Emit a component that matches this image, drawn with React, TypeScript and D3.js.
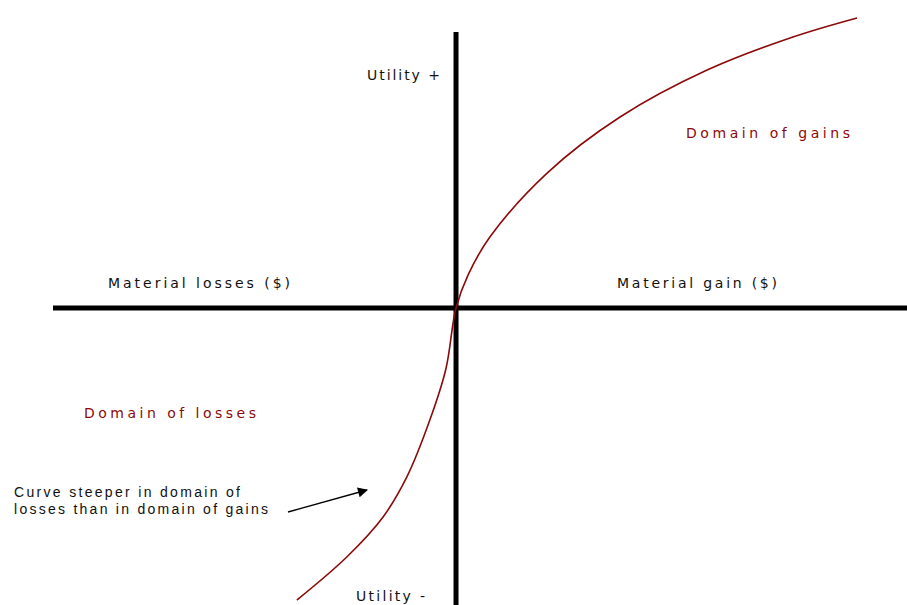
import React from 'react'
import * as d3 from 'd3'

// curve, x = material change, y = utility
const gainX = [0, 0.3, 0.84, 2.26, 4.07, 6.23, 8.36, 9.95]
const gainY = [0, 1.2, 2.57, 4.89, 6.92, 8.62, 9.82, 10.51]
const lossX = [-3.95, -2.71, -1.81, -1.22, -0.65, -0.25, 0]
const lossY = [-10.58, -9.02, -7.57, -6.12, -4.06, -2.2, 0]

const width = 907
const height = 605
const darkRed = '#8b0a0a'
const font = '"DejaVu Sans", Verdana, sans-serif'

export default function App() {
  const x = d3.scaleLinear().domain([-10, 11.19]).range([53, 907])
  const y = d3.scaleLinear().domain([-10.76, 10]).range([605, 32])

  const pts: [number, number][] = [
    ...lossX.map((v, i) => [v, lossY[i]] as [number, number]),
    ...gainX.slice(1).map((v, i) => [v, gainY[i + 1]] as [number, number]),
  ]
  const line = d3.line<[number, number]>()
    .x(d => x(d[0]))
    .y(d => y(d[1]))
    .curve(d3.curveCatmullRom.alpha(0.5))

  const x0 = x(0)
  const y0 = y(0)

  return (
    <svg width={width} height={height}
      style={{ position: 'absolute', left: 0, top: 0, background: '#fff' }}>
      <defs>
        <marker id="head" viewBox="0 0 10 10" refX="9" refY="5"
          markerWidth="14" markerHeight="10" markerUnits="userSpaceOnUse" orient="auto">
          <path d="M0,0 L10,5 L0,10 Z" fill="#000" />
        </marker>
      </defs>

      <line x1={x.range()[0]} x2={x.range()[1]} y1={y0} y2={y0} stroke="#000" strokeWidth={5} />
      <line x1={x0} x2={x0} y1={y.range()[1]} y2={y.range()[0]} stroke="#000" strokeWidth={5} />

      <path d={line(pts) || ''} fill="none" stroke={darkRed} strokeWidth={1.6} />

      <g fontFamily={font} fontSize={14} fill="#111">
        <text x={367} y={80} textLength={73} lengthAdjust="spacing">Utility +</text>
        <text x={108} y={288} textLength={182} lengthAdjust="spacing">Material losses ($)</text>
        <text x={617} y={288} textLength={160} lengthAdjust="spacing">Material gain ($)</text>
        <text x={356} y={601} textLength={69} lengthAdjust="spacing">Utility -</text>
      </g>
      <g fontFamily={font} fontSize={14} fill={darkRed}>
        <text x={686} y={138} textLength={164} lengthAdjust="spacing">Domain of gains</text>
        <text x={84} y={418} textLength={172} lengthAdjust="spacing">Domain of losses</text>
      </g>
      <g fontFamily='"Liberation Sans", Arial, sans-serif' fontSize={14} fill="#111">
        <text x={14} y={497} textLength={226} lengthAdjust="spacing">Curve steeper in domain of</text>
        <text x={14} y={514} textLength={254} lengthAdjust="spacing">losses than in domain of gains</text>
      </g>
      <line x1={288} y1={512} x2={367} y2={490} stroke="#000" strokeWidth={1.3}
        markerEnd="url(#head)" />
    </svg>
  )
}
